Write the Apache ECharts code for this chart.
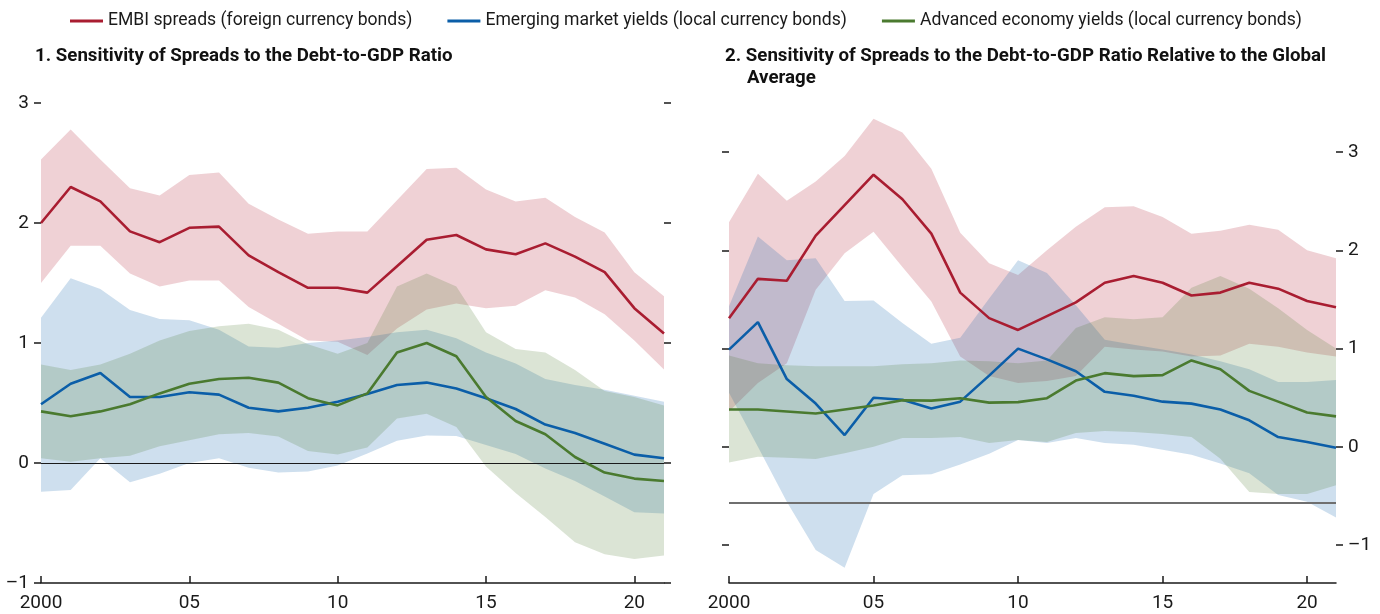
<!DOCTYPE html>
<html>
<head>
<meta charset="utf-8">
<script src="https://cdn.jsdelivr.net/npm/echarts@6/dist/echarts.min.js"></script>
<style>
  html, body { margin: 0; padding: 0; background: #fff; }
  #chart { width: 1380px; height: 614px; }
</style>
</head>
<body>
<div id="chart"></div>
<script>
var years = [2000, 2001, 2002, 2003, 2004, 2005, 2006, 2007, 2008, 2009, 2010,
  2011, 2012, 2013, 2014, 2015, 2016, 2017, 2018, 2019, 2020, 2021];

// panel 1
var embi1 = [2.00, 2.30, 2.18, 1.93, 1.84, 1.96, 1.97, 1.73, 1.59, 1.46, 1.46, 1.42, 1.64, 1.86, 1.90, 1.78, 1.74, 1.83, 1.72, 1.59, 1.29, 1.08];
var embi1Hi = [2.53, 2.78, 2.53, 2.29, 2.23, 2.40, 2.42, 2.16, 2.03, 1.91, 1.93, 1.93, 2.19, 2.45, 2.46, 2.28, 2.18, 2.21, 2.05, 1.92, 1.59, 1.39];
var embi1Lo = [1.50, 1.81, 1.81, 1.58, 1.47, 1.52, 1.52, 1.30, 1.16, 1.02, 1.01, 0.90, 1.12, 1.28, 1.33, 1.29, 1.31, 1.44, 1.38, 1.24, 1.02, 0.78];
var em1 = [0.49, 0.66, 0.75, 0.55, 0.55, 0.59, 0.57, 0.46, 0.43, 0.46, 0.51, 0.575, 0.65, 0.67, 0.62, 0.54, 0.45, 0.32, 0.25, 0.16, 0.07, 0.04];
var em1Hi = [1.21, 1.54, 1.45, 1.275, 1.20, 1.19, 1.11, 0.97, 0.96, 1.00, 1.02, 1.05, 1.09, 1.11, 1.04, 0.92, 0.83, 0.70, 0.65, 0.61, 0.56, 0.51];
var em1Lo = [-0.24, -0.225, 0.04, -0.16, -0.09, 0.0, 0.04, -0.04, -0.08, -0.07, -0.02, 0.08, 0.185, 0.23, 0.225, 0.15, 0.075, -0.045, -0.15, -0.28, -0.41, -0.42];
var ae1 = [0.43, 0.39, 0.43, 0.49, 0.58, 0.66, 0.70, 0.71, 0.67, 0.54, 0.48, 0.58, 0.92, 1.00, 0.89, 0.55, 0.35, 0.24, 0.05, -0.08, -0.13, -0.15];
var ae1Hi = [0.82, 0.775, 0.82, 0.91, 1.02, 1.10, 1.14, 1.16, 1.11, 0.99, 0.91, 1.00, 1.47, 1.58, 1.47, 1.09, 0.95, 0.92, 0.775, 0.60, 0.55, 0.48];
var ae1Lo = [0.04, 0.01, 0.04, 0.06, 0.14, 0.19, 0.24, 0.25, 0.22, 0.10, 0.07, 0.13, 0.37, 0.41, 0.30, -0.03, -0.25, -0.45, -0.66, -0.76, -0.80, -0.77];

// panel 2
var embi2 = [1.31, 1.71, 1.69, 2.15, 2.46, 2.77, 2.52, 2.17, 1.57, 1.31, 1.19, 1.33, 1.47, 1.67, 1.74, 1.67, 1.54, 1.57, 1.67, 1.61, 1.485, 1.42];
var embi2Hi = [2.285, 2.78, 2.505, 2.70, 2.96, 3.34, 3.20, 2.83, 2.18, 1.87, 1.75, 2.00, 2.24, 2.44, 2.45, 2.34, 2.17, 2.20, 2.26, 2.21, 2.00, 1.92];
var embi2Lo = [0.36, 0.65, 0.85, 1.60, 1.97, 2.19, 1.83, 1.48, 0.92, 0.72, 0.65, 0.67, 0.72, 1.02, 0.99, 0.97, 0.92, 0.93, 1.05, 1.02, 0.96, 0.92];
var em2 = [0.99, 1.27, 0.69, 0.44, 0.12, 0.50, 0.48, 0.39, 0.46, 0.725, 1.00, 0.89, 0.77, 0.56, 0.52, 0.46, 0.44, 0.38, 0.27, 0.10, 0.05, -0.01];
var em2Hi = [1.43, 2.14, 1.90, 1.92, 1.485, 1.49, 1.26, 1.05, 1.11, 1.51, 1.90, 1.77, 1.44, 1.09, 1.04, 0.99, 0.94, 0.87, 0.79, 0.66, 0.66, 0.68];
var em2Lo = [0.55, 0.0, -0.56, -1.05, -1.23, -0.48, -0.29, -0.28, -0.18, -0.07, 0.07, 0.04, 0.09, 0.04, 0.02, -0.03, -0.08, -0.17, -0.27, -0.49, -0.56, -0.72];
var ae2 = [0.38, 0.38, 0.36, 0.34, 0.38, 0.42, 0.475, 0.47, 0.495, 0.45, 0.455, 0.495, 0.675, 0.75, 0.72, 0.73, 0.88, 0.79, 0.57, 0.46, 0.35, 0.31];
var ae2Hi = [0.93, 0.85, 0.83, 0.82, 0.82, 0.82, 0.84, 0.85, 0.88, 0.87, 0.85, 0.88, 1.21, 1.32, 1.30, 1.32, 1.62, 1.74, 1.61, 1.41, 1.19, 1.00];
var ae2Lo = [-0.16, -0.10, -0.11, -0.125, -0.065, 0.0, 0.09, 0.09, 0.10, 0.04, 0.07, 0.05, 0.14, 0.16, 0.15, 0.13, 0.10, -0.12, -0.46, -0.48, -0.48, -0.39];
var refLine2 = -0.57;

var yTicks = [-1, 0, 1, 2, 3];
var names = ['EMBI spreads (foreign currency bonds)', 'Emerging market yields (local currency bonds)', 'Advanced economy yields (local currency bonds)'];

var RED = '#A91D31', BLUE = '#0B5EA8', GREEN = '#4A7A2F';
var RED_BAND = 'rgba(176, 24, 45, 0.2)', BLUE_BAND = 'rgba(10, 93, 168, 0.2)', GREEN_BAND = 'rgba(74, 122, 46, 0.2)';
var FONT = "Roboto, 'Liberation Sans', sans-serif";
var INK = '#1a1a1a';

function pairs(vals) {
  return years.map(function (y, i) { return [y, vals[i]]; });
}

// shaded range drawn as one polygon: upper edge left to right, lower edge back
function band(lo, hi, color, xi, yi) {
  return {
    type: 'custom', xAxisIndex: xi, yAxisIndex: yi, silent: true, z: 1, clip: false,
    data: years.map(function (y, i) { return [y, lo[i], hi[i]]; }),
    encode: { x: 0, y: [1, 2] },
    renderItem: function (params, api) {
      if (params.dataIndex !== 0) return null;
      var pts = [];
      for (var i = 0; i < years.length; i++) pts.push(api.coord([years[i], hi[i]]));
      for (var j = years.length - 1; j >= 0; j--) pts.push(api.coord([years[j], lo[j]]));
      return { type: 'polygon', shape: { points: pts }, style: { fill: color } };
    }
  };
}

function line(name, vals, color, xi, yi) {
  return {
    name: name, type: 'line', data: pairs(vals), symbol: 'none',
    xAxisIndex: xi, yAxisIndex: yi, z: 5,
    lineStyle: { color: color, width: 2.6 }, itemStyle: { color: color }
  };
}

function xAxis(gi) {
  return {
    type: 'value', gridIndex: gi, min: 2000, max: 2021, interval: 5,
    axisLine: { show: true, onZero: false, lineStyle: { color: INK, width: 1.5 } },
    axisTick: { show: true, inside: true, length: 7, lineStyle: { color: INK, width: 1.5 } },
    axisLabel: {
      color: INK, fontSize: 19, margin: 11, showMaxLabel: false, fontFamily: FONT,
      formatter: function (v) { return v === 2000 ? '2000' : String(v % 100).padStart(2, '0'); }
    },
    splitLine: { show: false }
  };
}

function yAxis(gi, pos, min, max, labels) {
  return {
    type: 'value', gridIndex: gi, position: pos, min: min, max: max,
    axisLine: { show: false },
    axisTick: { show: true, length: 7, customValues: yTicks, lineStyle: { color: INK, width: 1.5 } },
    axisLabel: {
      show: labels, color: INK, fontSize: 19, margin: 12, customValues: yTicks, fontFamily: FONT,
      formatter: function (v) { return String(v).replace('-', '\u2013'); }
    },
    splitLine: { show: false }
  };
}

var series = [
  band(embi1Lo, embi1Hi, RED_BAND, 0, 0),
  band(em1Lo, em1Hi, BLUE_BAND, 0, 0),
  band(ae1Lo, ae1Hi, GREEN_BAND, 0, 0),
  band(embi2Lo, embi2Hi, RED_BAND, 1, 2),
  band(em2Lo, em2Hi, BLUE_BAND, 1, 2),
  band(ae2Lo, ae2Hi, GREEN_BAND, 1, 2)
];

var red1 = line(names[0], embi1, RED, 0, 0);
red1.markLine = {
  silent: true, symbol: 'none', label: { show: false },
  lineStyle: { color: INK, width: 1.2, type: 'solid' },
  data: [{ yAxis: 0 }]
};
series.push(red1, line(names[1], em1, BLUE, 0, 0), line(names[2], ae1, GREEN, 0, 0));

var red2 = line(names[0], embi2, RED, 1, 2);
red2.markLine = {
  silent: true, symbol: 'none', label: { show: false },
  lineStyle: { color: '#6f6f6f', width: 2, type: 'solid' },
  data: [{ yAxis: refLine2 }]
};
series.push(red2, line(names[1], em2, BLUE, 1, 2), line(names[2], ae2, GREEN, 1, 2));

var titleStyle = { fontSize: 18.7, fontWeight: 'bold', color: '#111', fontFamily: FONT };

var chart = echarts.init(document.getElementById('chart'), null, { renderer: 'canvas' });
chart.setOption({
  animation: false,
  backgroundColor: '#fff',
  textStyle: { fontFamily: FONT },
  legend: {
    data: names, left: 70, top: 12, padding: 0, width: 1300, itemGap: 35, itemWidth: 33, itemHeight: 3, icon: 'rect',
    textStyle: { color: INK, fontSize: 17.6, fontFamily: FONT }
  },
  title: [
    { text: '1. Sensitivity of Spreads to the Debt-to-GDP Ratio', left: 35, top: 47, padding: 0, textStyle: titleStyle },
    { text: '2. Sensitivity of Spreads to the Debt-to-GDP Ratio Relative to the Global', left: 725, top: 47, padding: 0, textStyle: titleStyle },
    { text: 'Average', left: 747, top: 69, padding: 0, textStyle: titleStyle }
  ],
  grid: [
    { left: 41, top: 103, width: 623, height: 480, outerBoundsMode: 'none' },
    { left: 729, top: 103, width: 607, height: 480, outerBoundsMode: 'none' }
  ],
  xAxis: [xAxis(0), xAxis(1)],
  yAxis: [
    yAxis(0, 'left', -1, 3, true),
    yAxis(0, 'right', -1, 3, false),
    yAxis(1, 'left', -1.386, 3.5, false),
    yAxis(1, 'right', -1.386, 3.5, true)
  ],
  series: series
});
</script>
</body>
</html>
